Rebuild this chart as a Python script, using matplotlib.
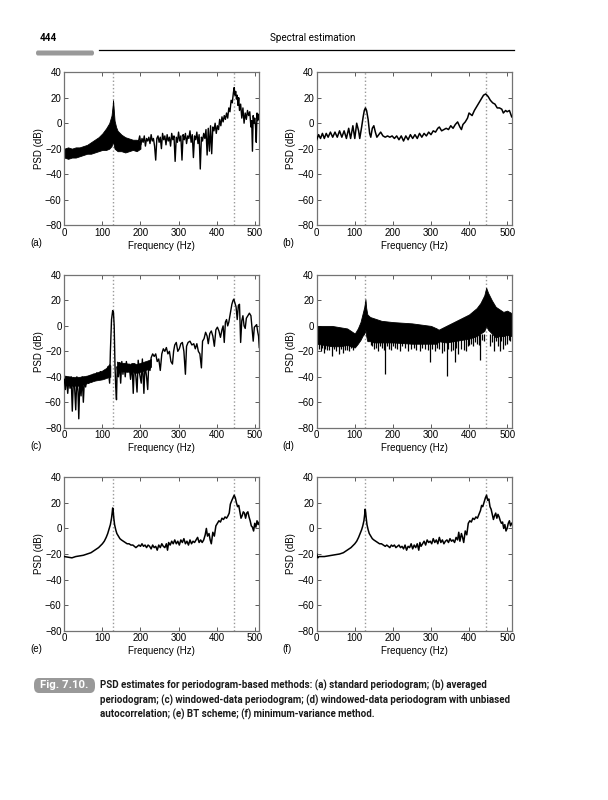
import matplotlib
matplotlib.use('Agg')
import matplotlib.pyplot as plt
from matplotlib.patches import FancyBboxPatch

AX_FONT = ['Liberation Sans', 'DejaVu Sans']
BOOK_FONT = ['Roboto', 'Liberation Sans', 'DejaVu Sans']
plt.rcParams['font.family'] = AX_FONT

# signal tone frequencies (dotted markers)
tone_f = [128, 445]

# ---- (a) standard periodogram: dense band below 200 Hz + spiky tail ----
a_band_f = [0, 10, 20, 30, 40, 50, 60, 70, 80, 90, 100, 110, 118, 124, 127, 128,
            129, 132, 136, 140, 150, 160, 170, 180, 190, 200]
a_band_hi = [-20, -19, -20, -19, -19, -18, -17, -15, -13, -11, -8, -4, 0, 6, 14, 18,
             14, 2, -3, -6, -9, -11, -12, -13, -13, -14]
a_band_lo = [-27, -28, -27, -27, -26, -25, -24, -24, -23, -22, -21, -21, -20, -18, -15, -12,
             -16, -20, -21, -22, -22, -23, -22, -21, -22, -20]
a_line_f = [195, 198, 201, 204, 207, 210, 213, 216, 219, 222,
            225, 228, 231, 234, 237, 240, 243, 246, 249, 252,
            255, 258, 261, 264, 267, 270, 273, 276, 279, 282,
            285, 288, 291, 294, 297, 300, 303, 306, 309, 312,
            315, 318, 321, 324, 327, 330, 333, 336, 339, 342,
            345, 348, 351, 354, 357, 360, 363, 366, 369, 372,
            375, 378, 381, 384, 387, 390, 393, 396, 399, 402,
            405, 408, 411, 414, 417, 420, 423, 426, 429, 432,
            435, 438, 441, 444, 446, 448, 450, 452, 454, 456,
            458, 460, 463, 466, 469, 472, 475, 478, 481, 484,
            487, 490, 492, 494, 496, 498, 500, 502, 504, 506,
            508, 510, 512]
a_line_db = [-14, -10, -17, -12, -15, -10, -18, -12, -14, -11,
             -16, -9, -14, -12, -18, -29, -12, -10, -15, -11,
             -20, -8, -13, -10, -17, -9, -14, -11, -18, -8,
             -13, -10, -30, -11, -15, -7, -14, -10, -29, -9,
             -13, -8, -16, -10, -12, -6, -15, -9, -27, -10,
             -13, -7, -16, -9, -36, -11, -14, -8, -12, -5,
             -25, -4, -22, -2, -24, -3, -6, 0, -8, -2,
             -5, 3, -2, 5, 1, 6, 3, 8, 4, 12,
             9, 18, 16, 24, 28, 22, 25, 19, 22, 14,
             20, 10, 15, 4, 12, 0, 8, 3, 10, 6,
             9, -3, 2, -22, 6, 0, 4, -2, -15, 8,
             2, 7, 3]

# ---- (b) averaged periodogram ----
b_f = [0, 5, 10, 15, 20, 25, 30, 36, 42, 48,
       54, 60, 66, 72, 78, 84, 89, 95, 100, 105,
       110, 113, 118, 122, 125, 128, 131, 135, 139, 142,
       146, 150, 154, 158, 163, 168, 174, 180, 186, 192,
       198, 204, 210, 216, 222, 228, 234, 240, 246, 252,
       258, 264, 270, 276, 282, 288, 294, 300, 306, 312,
       318, 322, 328, 334, 340, 346, 352, 358, 364, 370,
       376, 380, 384, 390, 396, 400, 404, 408, 414, 420,
       426, 432, 438, 444, 450, 456, 462, 468, 474, 480,
       486, 490, 496, 500, 506, 512]
b_db = [-13, -9, -12, -8, -12, -8, -11, -7, -11, -7,
        -11, -6, -11, -6, -12, -4, -12, -2, -12, 0,
        -6, -12, -3, 5, 10, 12, 10, 3, -8, -11,
        -4, -2, -7, -11, -9, -7, -10, -11, -10, -11,
        -10, -12, -10, -13, -10, -14, -10, -13, -9, -12,
        -9, -12, -8, -11, -8, -10, -7, -9, -6, -7,
        -4, -3, -6, -5, -4, -5, -2, -4, -1, 1,
        -3, -5, -1, 1, 4, 8, 7, 6, 10, 13,
        16, 19, 22, 23, 21, 18, 16, 15, 12, 12,
        11, 8, 10, 9, 10, 5]

# ---- (c) windowed-data periodogram ----
c_band_f = [0, 20, 40, 60, 80, 100, 110, 118, 121]
c_band_hi = [-39, -40, -40, -39, -37, -35, -33, -30, -31]
c_band_lo = [-46, -47, -47, -45, -43, -42, -41, -40, -40]
c_band2_f = [138, 150, 160, 170, 180, 190, 200, 210, 220, 228]
c_band2_hi = [-28, -29, -29, -30, -29, -30, -29, -28, -27, -26]
c_band2_lo = [-34, -35, -36, -36, -36, -37, -36, -35, -34, -32]
c_f = [0, 3, 6, 9, 12, 15, 18, 21, 24, 27,
       30, 33, 36, 38, 41, 44, 47, 50, 53, 56,
       60, 64, 68, 72, 76, 80, 85, 90, 95, 100,
       105, 110, 115, 119, 121, 124, 127, 129, 131, 133,
       135, 137, 139, 142, 145, 148, 151, 154, 157, 160,
       163, 166, 170, 174, 178, 181, 184, 188, 191, 194,
       198, 202, 205, 209, 212, 216, 219, 222, 225, 228,
       232, 236, 240, 244, 248, 252, 256, 260, 264, 268,
       272, 276, 280, 284, 287, 290, 294, 298, 302, 306,
       310, 314, 318, 321, 325, 330, 335, 340, 344, 348,
       352, 356, 360, 363, 367, 371, 375, 378, 382, 386,
       390, 394, 398, 402, 406, 410, 414, 417, 420, 423,
       426, 429, 432, 436, 440, 443, 445, 448, 451, 454,
       457, 460, 463, 466, 469, 472, 475, 478, 482, 486,
       490, 493, 496, 499, 502, 505, 508, 510, 512]
c_db = [-42, -50, -40, -53, -41, -49, -40, -67, -41, -48,
        -66, -40, -52, -73, -41, -55, -40, -60, -41, -48,
        -40, -45, -39, -44, -38, -43, -37, -42, -36, -41,
        -35, -40, -32, -45, -20, 5, 12, 11, 0, -30,
        -48, -58, -32, -40, -29, -45, -28, -38, -30, -40,
        -28, -36, -30, -42, -30, -53, -30, -40, -52, -27,
        -38, -45, -26, -53, -30, -40, -50, -28, -35, -25,
        -22, -24, -22, -28, -26, -35, -22, -18, -20, -17,
        -22, -20, -28, -30, -20, -15, -13, -20, -18, -14,
        -13, -20, -38, -16, -13, -12, -15, -14, -18, -14,
        -20, -22, -33, -12, -10, -5, -8, -14, -6, -4,
        -8, -16, -3, -1, -4, -9, -3, 0, -13, 3,
        5, 0, 3, 10, 17, 20, 21, 18, 15, 5,
        16, 17, -13, 4, 8, 0, -2, 6, 8, 10,
        8, -2, -12, -1, 0, 1, -5, -8, -17]

# ---- (d) windowed-data periodogram, unbiased autocorrelation ----
d_band_f = [0, 20, 40, 60, 80, 90, 100, 108, 115, 120,
            125, 128, 130, 133, 140, 150, 170, 200, 250, 300,
            315, 320, 340, 360, 380, 400, 420, 430, 440, 445,
            450, 460, 470, 480, 490, 500, 512]
d_band_hi = [0, 0, 0, -1, -2, -4, -6, -2, 3, 9,
             15, 21, 14, 9, 7, 6, 4, 3, 2, 0,
             -2, -3, 0, 3, 6, 9, 14, 18, 24, 30,
             26, 20, 15, 13, 11, 12, 10]
d_band_lo = [-14, -15, -16, -16, -15, -16, -17, -14, -11, -8,
             -6, -3, -8, -12, -12, -13, -13, -13, -14, -14,
             -14, -12, -13, -12, -11, -10, -8, -6, -4, 0,
             -3, -6, -9, -8, -8, -7, -8]
d_spike_f = [5, 10, 14, 18, 23, 28, 33, 40, 45, 50,
             58, 63, 68, 75, 80, 85, 90, 95, 142, 146,
             150, 155, 160, 165, 172, 176, 180, 185, 190, 195,
             200, 206, 212, 218, 225, 232, 240, 247, 255, 262,
             270, 277, 285, 292, 298, 304, 310, 316, 322, 328,
             335, 341, 346, 352, 357, 362, 367, 372, 380, 386,
             392, 396, 400, 405, 410, 415, 420, 425, 429, 434,
             438, 455, 460, 465, 472, 477, 480, 485, 490, 495,
             500, 504, 508]
d_spike_db = [-18, -20, -17, -21, -18, -19, -19, -24, -18, -20,
              -22, -18, -21, -19, -19, -20, -17, -19, -15, -16,
              -18, -17, -20, -16, -17, -19, -38, -16, -18, -19,
              -16, -17, -18, -20, -16, -17, -20, -18, -17, -19,
              -20, -17, -18, -19, -28, -18, -20, -17, -18, -21,
              -20, -39, -18, -20, -19, -28, -17, -22, -18, -19,
              -20, -16, -15, -14, -16, -13, -14, -15, -27, -11,
              -12, -16, -13, -20, -12, -16, -20, -12, -18, -15,
              -14, -11, -12]

# ---- (e) BT scheme ----
e_f = [0, 10, 20, 30, 40, 50, 60, 70, 80, 90,
       100, 105, 110, 114, 118, 121, 124, 126, 127, 128,
       130, 132, 135, 138, 142, 146, 150, 155, 160, 165,
       170, 175, 180, 184, 188, 192, 196, 200, 204, 208,
       212, 216, 220, 224, 228, 232, 236, 240, 244, 248,
       252, 256, 260, 264, 268, 271, 274, 278, 282, 286,
       290, 294, 298, 302, 306, 310, 314, 318, 322, 326,
       330, 334, 338, 342, 346, 350, 354, 358, 362, 366,
       370, 373, 376, 380, 383, 386, 390, 394, 398, 402,
       406, 410, 414, 418, 422, 426, 430, 433, 436, 440,
       443, 446, 449, 452, 455, 458, 461, 464, 467, 470,
       473, 476, 479, 482, 485, 488, 491, 494, 497, 500,
       503, 506, 509, 512]
e_db = [-22, -22.5, -23, -22, -21.5, -21, -20, -19, -17, -15,
        -12, -10, -7, -4, 0, 3, 8, 13, 16, 15,
        8, 3, -1, -4, -6, -8, -9, -10, -11, -12,
        -12, -13, -13, -14, -15, -14, -13, -14, -12, -14,
        -13, -15, -13, -14, -16, -13, -15, -14, -17, -13,
        -15, -12, -14, -15, -12, -17, -11, -13, -10, -12,
        -9, -12, -10, -13, -9, -11, -8, -12, -10, -13,
        -9, -12, -10, -11, -9, -7, -11, -9, -11, -9,
        -5, 0, -6, -4, -9, -12, -3, -6, 2, 4,
        6, 5, 8, 7, 9, 8, 10, 12, 19, 22,
        24, 26, 24, 20, 17, 18, 13, 8, 10, 13,
        12, 8, 12, 13, 9, 6, 2, 1, -2, 4,
        1, 6, 3, 5]

# ---- (f) minimum-variance method ----
f_f = [0, 3, 6, 10, 20, 30, 40, 50, 60, 70,
       80, 90, 100, 105, 110, 114, 118, 121, 124, 126,
       127, 128, 130, 132, 135, 138, 142, 146, 150, 155,
       160, 165, 170, 175, 180, 184, 188, 192, 196, 200,
       204, 208, 212, 216, 220, 224, 228, 232, 236, 240,
       244, 248, 252, 256, 260, 264, 268, 271, 274, 278,
       282, 286, 290, 294, 298, 302, 306, 310, 314, 318,
       322, 326, 330, 334, 338, 342, 346, 350, 354, 358,
       362, 366, 370, 373, 376, 380, 383, 386, 390, 394,
       398, 402, 406, 410, 414, 418, 422, 426, 430, 433,
       436, 440, 443, 446, 449, 452, 455, 458, 461, 464,
       467, 470, 473, 476, 479, 482, 485, 488, 491, 494,
       497, 500, 503, 506, 509, 512]
f_db = [-20, -23, -22, -22, -22, -21.5, -21, -20.5, -20, -19,
        -17, -15, -12, -10, -7, -4, -1, 2, 6, 11,
        15, 14, 8, 3, -1, -4, -6, -8, -9, -10,
        -11, -12, -12, -13, -14, -13, -14, -15, -13, -14,
        -13, -15, -14, -13, -15, -14, -16, -13, -17, -14,
        -15, -12, -16, -13, -15, -12, -17, -11, -14, -12,
        -10, -13, -9, -11, -10, -12, -8, -11, -9, -12,
        -7, -11, -9, -12, -10, -9, -11, -8, -10, -9,
        -11, -7, -9, -3, -10, -4, -7, -11, -2, -5,
        4, 6, 5, 8, 7, 9, 8, 11, 14, 18,
        17, 21, 24, 26, 22, 23, 17, 15, 11, 7,
        10, 12, 8, 11, 9, 6, 4, 5, 0, 3,
        -2, 0, 4, 6, 2, 4]

x_ticks = [0, 100, 200, 300, 400, 500]
y_ticks = [-80, -60, -40, -20, 0, 20, 40]
panel_tags = ['(a)', '(b)', '(c)', '(d)', '(e)', '(f)']

caption_lines = [
    "PSD estimates for periodogram-based methods: (a) standard periodogram; (b) averaged",
    "periodogram; (c) windowed-data periodogram; (d) windowed-data periodogram with unbiased",
    "autocorrelation; (e) BT scheme; (f) minimum-variance method.",
]

W, H = 608, 800
fig = plt.figure(figsize=(W / 100, H / 100), dpi=100)
fig.patch.set_facecolor('white')
renderer = fig.canvas.get_renderer()

# axes boxes in pixels: (left, right) and (top, bottom)
col_x = [(64.3, 259.3), (316.7, 511.7)]
row_y = [(72.3, 225.0), (275.0, 427.7), (477.3, 630.7)]


def fit_width(txt, width_px):
    """Shrink/grow a text's font size so it spans width_px pixels."""
    w = txt.get_window_extent(renderer).width
    txt.set_fontsize(txt.get_fontsize() * width_px / w)
    return txt.get_fontsize()


def make_axes(col, row):
    x0, x1 = col_x[col]
    y0, y1 = row_y[row]
    ax = fig.add_axes([x0 / W, 1 - y1 / H, (x1 - x0) / W, (y1 - y0) / H])
    ax.set_xlim(0, 512)
    ax.set_ylim(-80, 40)
    ax.set_xticks(x_ticks)
    ax.set_yticks(y_ticks)
    ax.tick_params(direction='in', top=True, right=True, length=3, width=0.6,
                   labelsize=7, pad=2, color='0.25')
    for sp in ax.spines.values():
        sp.set_color('0.45')
        sp.set_linewidth(0.9)
    ax.set_xlabel('Frequency (Hz)', fontsize=7, labelpad=2)
    ax.set_ylabel('PSD (dB)', fontsize=7, labelpad=1)
    for f in tone_f:
        ax.axvline(f, color='0.6', ls=':', lw=1.0, zorder=1)
    # panel tag under the axes
    fig.text((x0 - 34) / W, 1 - (y1 + 18) / H, panel_tags[row * 2 + col],
             fontsize=7, va='center', ha='left')
    return ax


line_kw = dict(color='black', lw=1.1, zorder=3)

ax = make_axes(0, 0)
ax.fill_between(a_band_f, a_band_lo, a_band_hi, color='black', lw=0.6, zorder=2)
ax.plot(a_line_f, a_line_db, color='black', lw=1.0, zorder=3)

ax = make_axes(1, 0)
ax.plot(b_f, b_db, **line_kw)

ax = make_axes(0, 1)
ax.fill_between(c_band_f, c_band_lo, c_band_hi, color='black', lw=0.5, zorder=2)
ax.fill_between(c_band2_f, c_band2_lo, c_band2_hi, color='black', lw=0.5, zorder=2)
ax.plot(c_f, c_db, color='black', lw=1.0, zorder=3)

ax = make_axes(1, 1)
ax.fill_between(d_band_f, d_band_lo, d_band_hi, color='black', lw=0.6, zorder=2)
ax.vlines(d_spike_f, d_spike_db, -6, color='black', lw=0.9, zorder=3)

ax = make_axes(0, 2)
ax.plot(e_f, e_db, **line_kw)

ax = make_axes(1, 2)
ax.plot(f_f, f_db, **line_kw)

# ---- running head ----
t = fig.text(40 / W, 1 - 38 / H, '444', fontsize=8, weight='bold', family=BOOK_FONT,
             va='center', ha='left')
fit_width(t, 17)
t = fig.text(313 / W, 1 - 38 / H, 'Spectral estimation', fontsize=8.5, family=BOOK_FONT,
             va='center', ha='center')
fit_width(t, 84)
fig.add_artist(plt.Line2D([99 / W, 514 / W], [1 - 49.5 / H, 1 - 49.5 / H],
                          color='black', lw=0.9))
fig.add_artist(FancyBboxPatch((36 / W, 1 - 55.5 / H), 58 / W, 5 / H,
                              boxstyle='round,pad=0,rounding_size=0.003',
                              transform=fig.transFigure, fc='0.6', ec='none'))

# ---- caption ----
fig.add_artist(FancyBboxPatch((34 / W, 1 - 693 / H), 61 / W, 15 / H,
                              boxstyle='round,pad=0,rounding_size=0.008',
                              transform=fig.transFigure, fc='0.6', ec='none'))
t = fig.text(64.5 / W, 1 - 685.5 / H, 'Fig. 7.10.', fontsize=7.5, weight='bold',
             color='white', family=BOOK_FONT, va='center', ha='center')
fit_width(t, 48)
cap = [fig.text(100 / W, 1 - (685.5 + i * 14.5) / H, line, fontsize=7.5, weight='bold',
                family=BOOK_FONT, va='center', ha='left', color='0.1')
       for i, line in enumerate(caption_lines)]
size = fit_width(cap[1], 411)
for c in cap:
    c.set_fontsize(size)

fig.savefig('out.png', dpi=100, facecolor='white')
